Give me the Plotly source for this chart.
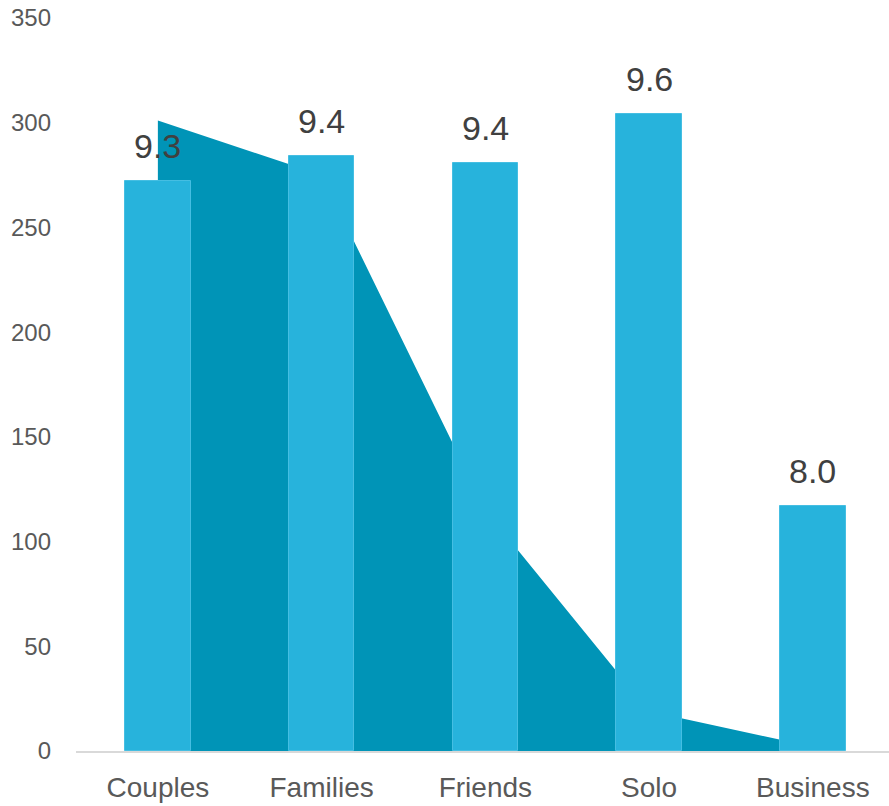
import plotly.graph_objects as go

# Guest segments with review counts, average rating, and share of stays
segments = ["Couples", "Families", "Friends", "Solo", "Business"]
review_counts = [272, 284, 281, 304, 117]
avg_rating = [9.3, 9.4, 9.4, 9.6, 8.0]
stay_volume = [301, 275, 115, 19, 2]

y_ticks = [0, 50, 100, 150, 200, 250, 300, 350]

BAR_COLOR = "#27B3DC"
AREA_COLOR = "#0094B7"
FONT = "Liberation Sans"

fig = go.Figure()

# Area sits on the base subplot so the bars (overlay subplot) draw above it
fig.add_trace(go.Scatter(
    x=segments, y=stay_volume,
    mode="lines", line=dict(width=0, color=AREA_COLOR),
    fill="tozeroy", fillcolor=AREA_COLOR,
    hoverinfo="skip", showlegend=False,
    xaxis="x", yaxis="y",
))

fig.add_trace(go.Bar(
    x=segments, y=review_counts,
    marker=dict(color=BAR_COLOR, line=dict(width=1, color="#45BEE2")),
    width=0.4, showlegend=False,
    xaxis="x2", yaxis="y2",
))

# Rating labels above each bar
for seg, cnt, r in zip(segments, review_counts, avg_rating):
    fig.add_annotation(
        x=seg, y=cnt, xref="x2", yref="y2",
        text=f"{r:.1f}", showarrow=False,
        yanchor="bottom", yshift=14,
        font=dict(family=FONT, size=34, color="#404040"),
    )

x_range = [-0.5, 4.465]
y_range = [0, 350]

common_x = dict(
    type="category", categoryorder="array", categoryarray=segments,
    range=x_range, showgrid=False, zeroline=False, automargin=False,
)
common_y = dict(range=y_range, showgrid=False, zeroline=False, automargin=False)

fig.update_layout(
    width=889, height=806,
    margin=dict(l=76, r=0, t=18, b=55),
    paper_bgcolor="white", plot_bgcolor="white",
    xaxis=dict(
        **common_x,
        showline=True, linecolor="#D9D9D9", linewidth=1.5,
        ticks="", ticklabelstandoff=11,
        tickfont=dict(family=FONT, size=28, color="#595959"),
    ),
    yaxis=dict(
        **common_y,
        tickmode="array", tickvals=y_ticks, ticktext=[str(v) for v in y_ticks],
        ticks="", ticklabelstandoff=24,
        tickfont=dict(family=FONT, size=24, color="#595959"),
    ),
    xaxis2=dict(**common_x, overlaying="x", showticklabels=False, showline=False),
    yaxis2=dict(**common_y, overlaying="y", showticklabels=False, showline=False),
    bargap=0,
)

fig.write_html("out.html")
